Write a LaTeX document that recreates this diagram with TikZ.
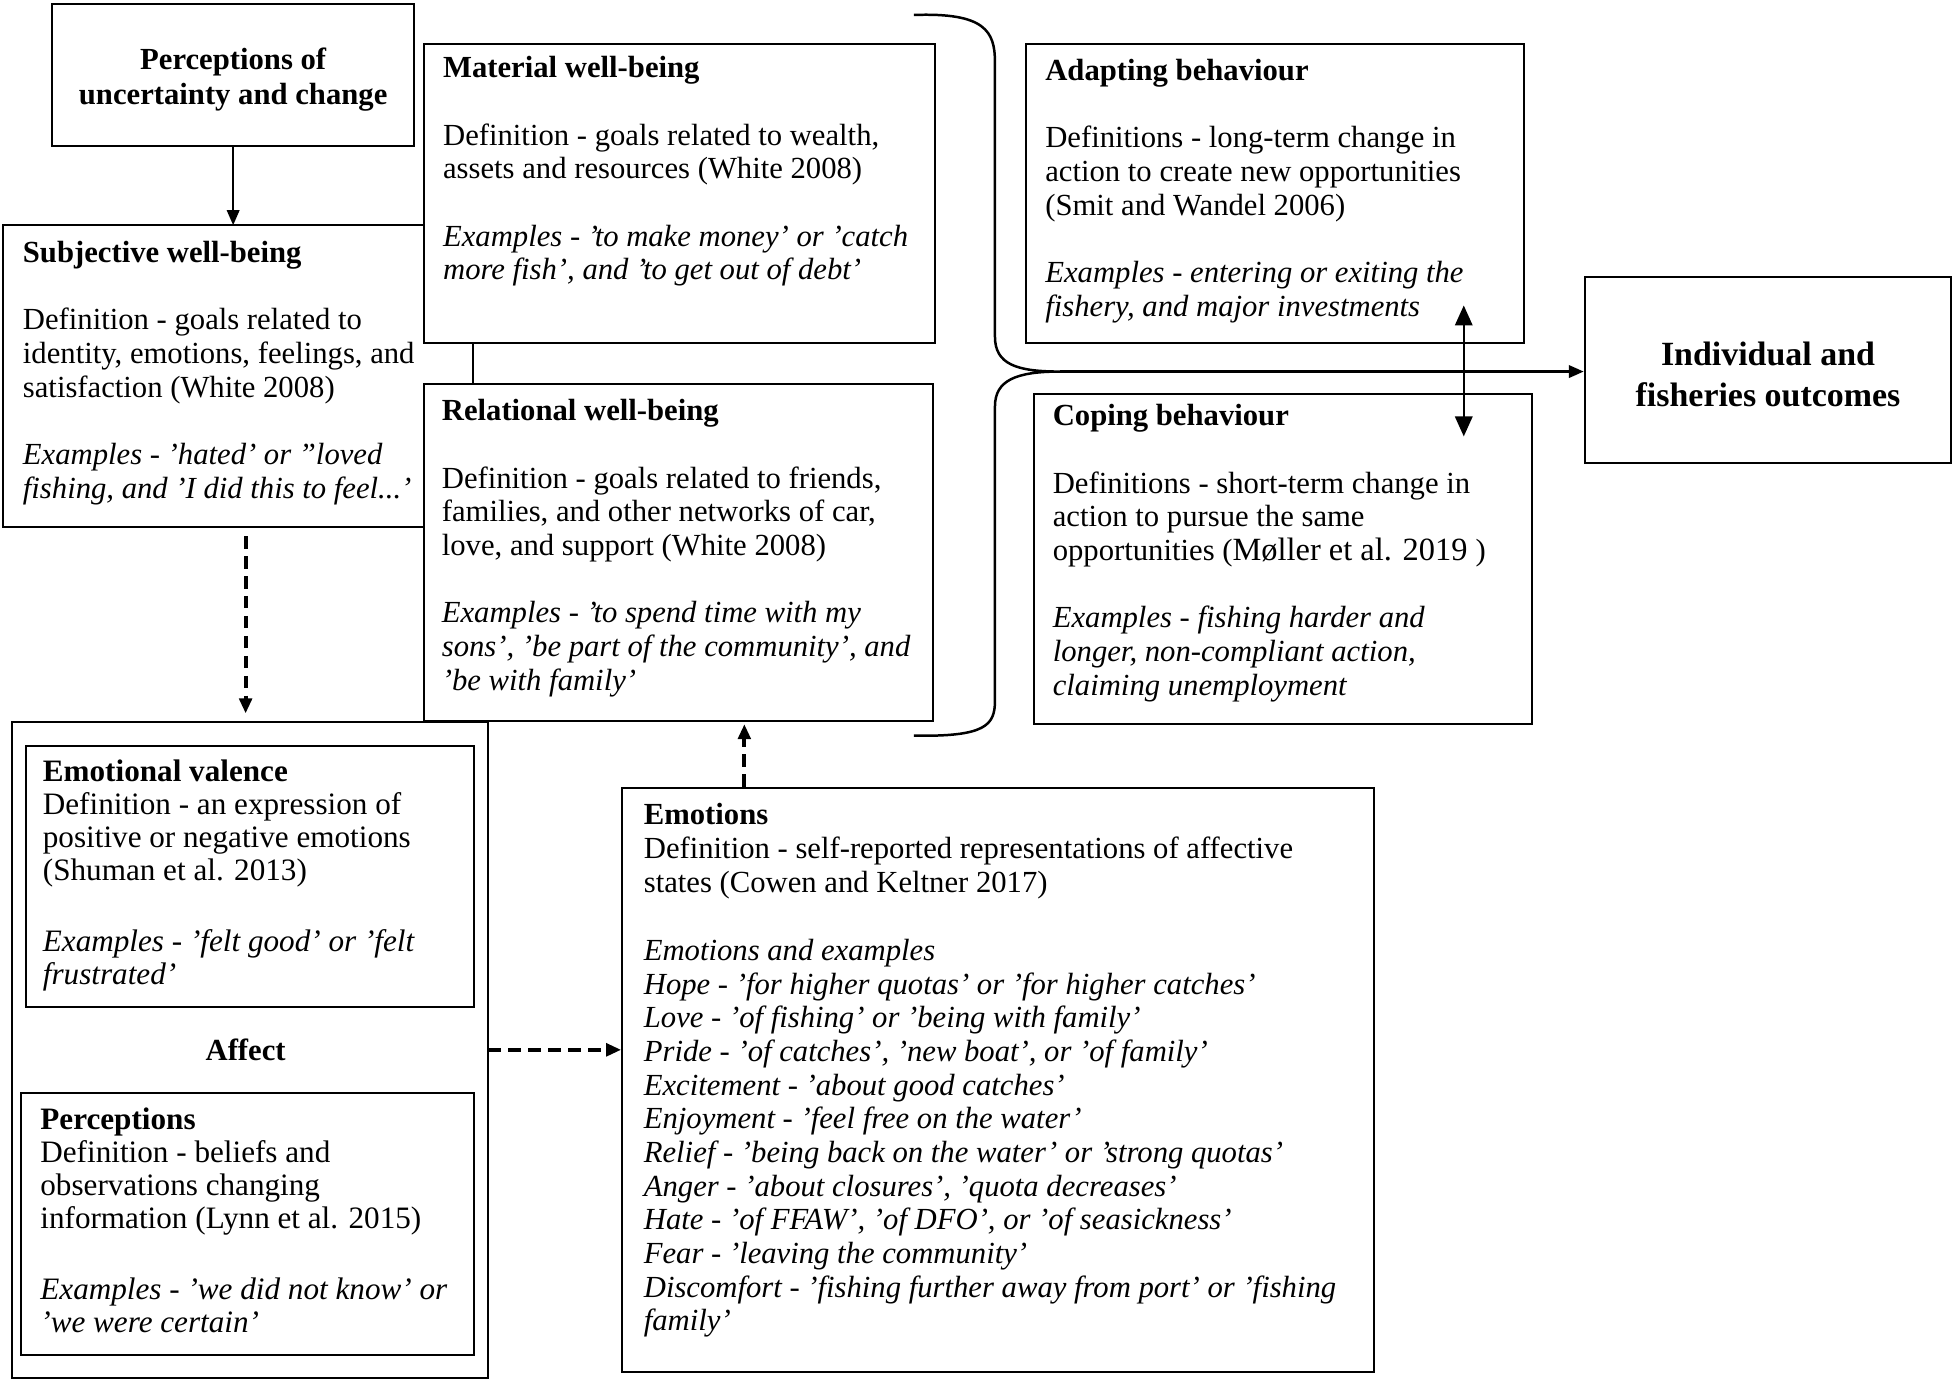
\documentclass[tikz,border=0pt]{standalone}
\usepackage{fontspec}
\setmainfont{Liberation Serif}
\usetikzlibrary{arrows.meta,fit}
\tikzset{
	box/.style={draw,line width=0.8pt,fill=white,inner sep=0pt},
	txt/.style={inner sep=0pt,align=left,anchor=north west,font=\fontsize{12.3}{13.5}\selectfont},
	ttl/.style={inner sep=0pt,align=center,font=\bfseries\fontsize{12.3}{14}\selectfont},
	arr/.style={-{Triangle[length=6pt,width=5pt]},line width=0.8pt},
	dasharr/.style={-{Triangle[length=6pt,width=5pt]},line width=1.6pt,dash pattern=on 5pt off 3pt},
	dblarr/.style={{Triangle[length=8pt,width=7pt]}-{Triangle[length=8pt,width=7pt]},line width=0.8pt}
}
\newcommand{\gap}{\\[13.5pt]}
\begin{document}
\begin{tikzpicture}[x=0.5pt,y=-0.5pt]
	\useasboundingbox (0,0) rectangle (1568,1108);
	% perceptions and subjective well-being
	\node[box,fit={(42,3) (332,117)}] (perc) {};
	\node[ttl] (percT) at (187,64) {Perceptions of\\uncertainty and change};
	\node[inner sep=0pt,fill=white,fit={(3,181) (340,422)}] (subj) {};
	\draw[line width=0.8pt] (subj.north east) -- (subj.north west) -- (subj.south west) -- (subj.south east);
	\node[txt] (subjT) at (18,193) {\textbf{Subjective well-being}\gap
		Definition - goals related to\\identity, emotions, feelings, and\\satisfaction (White 2008)\gap
		\textit{Examples - 'hated' or "loved}\\\textit{fishing, and 'I did this to feel...'}};
	\draw[arr] (perc.south) -- (perc.south |- subj.north);
	% material and relational
	\node[box,fit={(340,35) (750,275)}] (mat) {};
	\node[txt] (matT) at (355,45) {\textbf{Material well-being}\gap
		Definition - goals related to wealth,\\assets and resources (White 2008)\gap
		\textit{Examples - 'to make money' or 'catch}\\\textit{more fish', and 'to get out of debt'}};
	\node[box,fit={(340,308) (748,578)}] (rel) {};
	\node[txt] (relT) at (354,320) {\textbf{Relational well-being}\gap
		Definition - goals related to friends,\\families, and other networks of car,\\love, and support (White 2008)\gap
		\textit{Examples - 'to spend time with my}\\\textit{sons', 'be part of the community', and}\\\textit{'be with family'}};
	\coordinate (mr) at (379,275);
	\draw[line width=0.8pt] (mr) -- (mr |- rel.north);
	% brace
	\coordinate (tip) at (850,298);
	\draw[line width=1pt] (733,12) .. controls (790,10) and (798,25) .. (798,50) -- (798,270)
		.. controls (798,292) and (815,298) .. (tip)
		.. controls (815,298) and (798,305) .. (798,326) -- (798,562)
		.. controls (798,582) and (790,591) .. (733,590);
	% behaviours
	\node[box,fit={(823,35) (1222,275)}] (adapt) {};
	\node[txt] (adaptT) at (838,47) {\textbf{Adapting behaviour}\gap
		Definitions - long-term change in\\action to create new opportunities\\(Smit and Wandel 2006)\gap
		\textit{Examples - entering or exiting the}\\\textit{fishery, and major investments}};
	\node[box,fit={(829,316) (1229,581)}] (cope) {};
	\node[txt] (copeT) at (844,324) {\textbf{Coping behaviour}\gap
		Definitions - short-term change in\\action to pursue the same\\opportunities ({\fontsize{13}{13.5}\selectfont Møller et al. 2019 })\gap
		\textit{Examples - fishing harder and}\\\textit{longer, non-compliant action,}\\\textit{claiming unemployment}};
	\node[box,fit={(1271,222) (1565,371)}] (ind) {};
	\node[ttl,font=\bfseries\fontsize{13.6}{16.5}\selectfont] (indT) at (1418,300) {Individual and\\fisheries outcomes};
	\draw[arr,line width=1pt] (tip) -- (tip -| ind.west);
	\coordinate (adA) at (1174,245);
	\coordinate (adC) at (1174,350);
	\draw[dblarr] (adA) -- (adC);
	% affect
	\node[box,fit={(10,579) (391,1105)}] (aff) {};
	\node[box,fit={(21,598) (380,808)}] (val) {};
	\node[txt,font=\fontsize{12.5}{13.3}\selectfont] (valT) at (34,609) {\textbf{Emotional valence}\\
		Definition - an expression of\\positive or negative emotions\\(Shuman et al. 2013)\\[15pt]
		\textit{Examples - 'felt good' or 'felt}\\\textit{frustrated'}};
	\node[ttl] (affT) at (197,842) {Affect};
	\node[box,fit={(17,877) (380,1087)}] (percp) {};
	\node[txt,font=\fontsize{12.5}{13.3}\selectfont] (percpT) at (32,888) {\textbf{Perceptions}\\
		Definition - beliefs and\\observations changing\\information (Lynn et al. 2015)\\[15pt]
		\textit{Examples - 'we did not know' or}\\\textit{'we were certain'}};
	% emotions
	\node[box,fit={(499,632) (1102,1100)}] (emo) {};
	\node[txt] (emoT) at (516,644) {\textbf{Emotions}\\
		Definition - self-reported representations of affective\\states (Cowen and Keltner 2017)\\[14pt]
		\textit{Emotions and examples}\\
		\textit{Hope - 'for higher quotas' or 'for higher catches'}\\
		\textit{Love - 'of fishing' or 'being with family'}\\
		\textit{Pride - 'of catches', 'new boat', or 'of family'}\\
		\textit{Excitement - 'about good catches'}\\
		\textit{Enjoyment - 'feel free on the water'}\\
		\textit{Relief - 'being back on the water' or 'strong quotas'}\\
		\textit{Anger - 'about closures', 'quota decreases'}\\
		\textit{Hate - 'of FFAW', 'of DFO', or 'of seasickness'}\\
		\textit{Fear - 'leaving the community'}\\
		\textit{Discomfort - 'fishing further away from port' or 'fishing}\\
		\textit{family'}};
	% dashed links
	\coordinate (sd) at (197,430);
	\draw[dasharr,shorten >=3pt] (sd) -- (sd |- aff.north);
	\draw[dasharr] (aff.east) -- (aff.east -| emo.west);
	\coordinate (eu) at (597,631);
	\draw[dasharr,shorten >=1pt] (eu) -- (eu |- rel.south);
\end{tikzpicture}
\end{document}
